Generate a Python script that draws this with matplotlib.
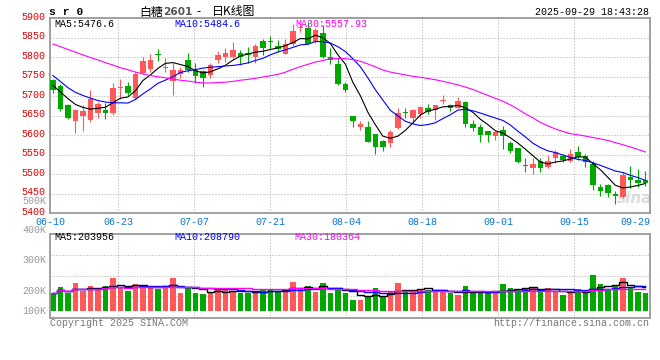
import numpy as np
import pandas as pd
import matplotlib
matplotlib.use("Agg")
import matplotlib.pyplot as plt
import matplotlib.transforms as mtransforms

plt.rcParams['font.family'] = ['Liberation Mono', 'DejaVu Sans Mono']

# daily K line, 2025-06-10 .. 2025-09-29 (80 sessions)
opens = [5742, 5727, 5677, 5637, 5649, 5638, 5658, 5665, 5658, 5720,
         5726, 5696, 5759, 5770, 5808, 5772, 5740, 5757, 5793, 5767,
         5764, 5754, 5793, 5801, 5801, 5812, 5812, 5801, 5841, 5842,
         5828, 5808, 5834, 5874, 5874, 5840, 5861, 5801, 5782, 5731,
         5648, 5622, 5620, 5603, 5585, 5579, 5618, 5659, 5643, 5655,
         5671, 5665, 5687, 5677, 5670, 5684, 5630, 5622, 5611, 5599,
         5613, 5581, 5568, 5524, 5517, 5535, 5519, 5542, 5547, 5534,
         5558, 5547, 5526, 5468, 5472, 5449, 5442, 5494, 5485, 5485]
highs = [5744, 5730, 5679, 5668, 5677, 5716, 5684, 5682, 5733, 5744,
         5737, 5763, 5801, 5807, 5820, 5797, 5784, 5776, 5812, 5786,
         5767, 5784, 5816, 5823, 5840, 5818, 5825, 5834, 5846, 5855,
         5845, 5846, 5884, 5887, 5891, 5874, 5883, 5823, 5797, 5737,
         5650, 5636, 5636, 5603, 5588, 5613, 5669, 5671, 5667, 5676,
         5681, 5678, 5703, 5681, 5699, 5688, 5639, 5628, 5611, 5610,
         5623, 5585, 5568, 5541, 5541, 5541, 5549, 5562, 5553, 5564,
         5572, 5553, 5535, 5475, 5476, 5457, 5506, 5520, 5513, 5507]
lows = [5709, 5662, 5641, 5606, 5612, 5633, 5645, 5641, 5652, 5694,
        5703, 5694, 5756, 5763, 5790, 5763, 5703, 5747, 5763, 5735,
        5724, 5747, 5786, 5788, 5797, 5780, 5786, 5784, 5806, 5822,
        5814, 5807, 5828, 5864, 5833, 5837, 5799, 5782, 5729, 5710,
        5622, 5613, 5582, 5553, 5560, 5570, 5616, 5643, 5630, 5643,
        5654, 5638, 5679, 5663, 5669, 5622, 5612, 5583, 5583, 5588,
        5565, 5555, 5529, 5506, 5500, 5506, 5517, 5528, 5532, 5532,
        5536, 5519, 5459, 5444, 5442, 5424, 5439, 5464, 5468, 5470]
closes = [5716, 5668, 5645, 5665, 5663, 5693, 5679, 5658, 5722, 5722,
          5709, 5757, 5791, 5793, 5806, 5774, 5767, 5766, 5767, 5752,
          5747, 5780, 5805, 5812, 5818, 5800, 5806, 5828, 5824, 5840,
          5821, 5835, 5867, 5876, 5835, 5870, 5801, 5794, 5731, 5716,
          5636, 5629, 5583, 5570, 5570, 5609, 5656, 5657, 5665, 5673,
          5660, 5677, 5689, 5669, 5688, 5629, 5619, 5600, 5600, 5609,
          5599, 5559, 5532, 5522, 5526, 5517, 5535, 5556, 5536, 5551,
          5545, 5532, 5472, 5458, 5452, 5444, 5498, 5484, 5477, 5478]
volumes = [187000, 220000, 187000, 240000, 198500, 223500, 215000, 223500, 265000, 212000,
           198500, 233500, 228500, 223500, 207000, 215000, 265000, 190000, 220000, 190000,
           183500, 195000, 203500, 207000, 198500, 190000, 187000, 195000, 203500, 207000,
           198500, 207000, 245000, 207000, 223500, 195000, 240000, 190000, 207000, 190000,
           153500, 153500, 173500, 215000, 173500, 195000, 240000, 203500, 203500, 208500,
           203500, 195000, 195000, 187000, 178500, 223500, 195000, 187000, 187000, 192000,
           233500, 215000, 208500, 215000, 220000, 195000, 215000, 195000, 180000, 195000,
           208500, 187000, 280000, 233500, 208500, 228500, 263500, 220000, 195000, 190000]

# moving averages before enough sessions are on screen
ma5_head = [5728, 5711, 5694, 5679]
ma10_head = [5753, 5738, 5722, 5710, 5702, 5695, 5689, 5685, 5683]
ma30_head = [5834, 5827, 5820, 5813, 5806, 5799, 5793, 5786, 5780, 5773,
             5768, 5762, 5757, 5753, 5750, 5747, 5744, 5741, 5739, 5736,
             5734, 5734, 5735, 5736, 5738, 5741, 5743, 5746, 5749]

date_labels = ["06-10", "06-23", "07-07", "07-21", "08-04", "08-18", "09-01", "09-15", "09-29"]
date_index = [0, 9, 19, 29, 39, 49, 59, 69, 79]
price_ticks = [5400, 5450, 5500, 5550, 5600, 5650, 5700, 5750, 5800, 5850, 5900]
vol_tick_labels = ["500K", "400K", "300K", "200K", "100K"]

ma_price_text = ["MA5:5476.6", "MA10:5484.6", "MA30:5557.93"]
ma_vol_text = ["MA5:203956", "MA10:208790", "MA30:180364"]

RED = "#ff5858"
GREEN = "#00a800"
GRID = "#aaaaaa"
W, H = 660, 360

n = len(closes)
x = np.arange(n)
o = np.array(opens)
c = np.array(closes)
colors = [RED if c[i] >= o[i] else GREEN for i in range(n)]

cs = pd.Series(closes, dtype=float)
ma5 = cs.rolling(5).mean().values
ma5[:len(ma5_head)] = ma5_head
ma10 = cs.rolling(10).mean().values
ma10[:len(ma10_head)] = ma10_head
ma30 = cs.rolling(30).mean().values
ma30[:len(ma30_head)] = ma30_head

vs = pd.Series(volumes, dtype=float)
vma5 = vs.rolling(5, min_periods=1).mean()
vma10 = vs.rolling(10, min_periods=1).mean()
vma30 = vs.rolling(30, min_periods=1).mean()


def fx(px):
    return px / W


def fy(py):
    return 1 - py / H


fig = plt.figure(figsize=(W / 100, H / 100), dpi=100)
fig.patch.set_facecolor("white")

ax = fig.add_axes([fx(50), fy(213.2), 600 / W, (213.2 - 18.2) / H])
axv = fig.add_axes([fx(50), fy(317.7), 600 / W, (317.7 - 234.3) / H])

# x grid: date ticks are spaced evenly across the frame, not on the bars
xt = [i * n / (n - 1) - 0.38 for i in date_index]

# ---- price panel
body_lo = np.minimum(o, c)
body_h = np.maximum(np.abs(c - o), 2.5)
ax.vlines(x, lows, highs, colors=colors, lw=0.8, zorder=2)
ax.bar(x, body_h, bottom=body_lo, width=0.76, color=colors, lw=0, zorder=3)
ax.plot(x, ma5, color="black", lw=0.8, zorder=4)
ax.plot(x, ma10, color="#0000ff", lw=0.8, zorder=4)
ax.plot(x, ma30, color="#ff00ff", lw=0.8, zorder=4)

ax.set_xlim(-0.38, n - 0.38)
ax.set_ylim(price_ticks[0], price_ticks[-1])
ax.set_yticks(price_ticks)
ax.set_yticklabels([str(p) for p in price_ticks])
ax.set_xticks(xt)
ax.set_xticklabels(date_labels)
ax.get_xticklabels()[-1].set_horizontalalignment("right")
ax.tick_params(axis="y", length=0, pad=3, labelsize=7.2, labelcolor="#e00000")
ax.tick_params(axis="x", length=0, pad=2.5, labelsize=7.2, labelcolor="#0a78d2")
# price labels sit a little above their grid lines
lift = mtransforms.ScaledTranslation(0, 2.5 / 100, fig.dpi_scale_trans)
for lab in ax.get_yticklabels():
    lab.set_transform(lab.get_transform() + lift)
ax.grid(True, color=GRID, lw=0.72, ls=(0, (1, 2)))
ax.set_axisbelow(True)
ax.text(0.975, 0.075, "sina", transform=ax.transAxes, ha="center", va="center",
        fontsize=11, fontstyle="italic", fontweight="bold", color="#dcdcdc",
        family="DejaVu Sans", zorder=1)

# ---- volume panel
vol_floor = 100000
vlo, vhi = 65000, 482000
axv.bar(x, np.array(volumes) - vol_floor, bottom=vol_floor, width=0.76, color=colors, lw=0, zorder=2)
axv.plot(x, vma5, color="black", lw=1.0, drawstyle="steps-mid", zorder=3)
axv.plot(x, vma10, color="#0000ff", lw=1.0, drawstyle="steps-mid", zorder=3)
axv.plot(x, vma30, color="#ff00ff", lw=1.0, drawstyle="steps-mid", zorder=3)
axv.set_xlim(-0.38, n - 0.38)
axv.set_ylim(vlo, vhi)
axv.set_yticks([vlo + (vhi - vlo) * f for f in (0.26, 0.5, 0.75)])
axv.set_yticklabels([])
axv.set_xticks(xt)
axv.set_xticklabels([])
axv.tick_params(length=0)
axv.grid(True, color=GRID, lw=0.72, ls=(0, (1, 2)))
axv.set_axisbelow(True)

for a in (ax, axv):
    for s in a.spines.values():
        s.set_color("#9a9a9a")
        s.set_linewidth(1.3)

# ---- texts
fs = 7.2
fig.text(fx(49), fy(12), "s r 0", fontsize=8.2, fontweight="bold", va="center")
cjk = ["Noto Sans CJK SC", "DejaVu Sans"]
fig.text(fx(139), fy(12), "白糖", family=cjk, fontsize=8.6, va="center")
fig.text(fx(163), fy(12), "2601", family=["DejaVu Sans"], fontsize=7.6, color="#555555",
         va="center", fontweight="bold")
fig.text(fx(196), fy(12), "-", family=cjk, fontsize=8.6, va="center")
fig.text(fx(212), fy(12), "日K线图", family=cjk, fontsize=8.6, va="center")
fig.text(fx(649), fy(12), "2025-09-29 18:43:28", fontsize=fs, ha="right", va="center")

ma_cols = ["black", "#0000ff", "#ff00ff"]
for t, col, px in zip(ma_price_text, ma_cols, (54, 174, 295)):
    fig.text(fx(px), fy(24), t, fontsize=fs, color=col, va="center")
for t, col, px in zip(ma_vol_text, ma_cols, (54, 174.5, 294.5)):
    fig.text(fx(px), fy(237.5), t, fontsize=fs, color=col, va="center")

for t, py in zip(vol_tick_labels, (201, 230, 260, 290.7, 310.7)):
    fig.text(fx(46), fy(py), t, fontsize=fs, color="#999999", ha="right", va="center")

fig.text(fx(50), fy(323.5), "Copyright 2025 SINA.COM", fontsize=fs, color="#777777", va="center")
fig.text(fx(649), fy(323.5), "http://finance.sina.com.cn", fontsize=fs, color="#777777",
         ha="right", va="center")

fig.savefig("out.png", dpi=100, facecolor="white")
